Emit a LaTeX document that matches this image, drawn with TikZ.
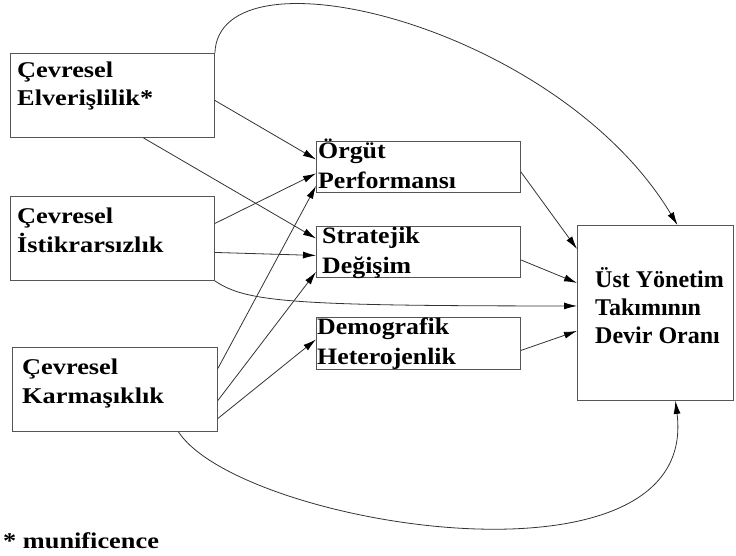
\documentclass[tikz,border=0pt]{standalone}
\usepackage{fontspec}
\setmainfont{Liberation Serif}
\newfontfamily\wideA[FakeStretch=1.17]{Liberation Serif}
\newfontfamily\wideB[FakeStretch=1.1]{Liberation Serif}
\newfontfamily\plainR{Liberation Serif}
\usetikzlibrary{arrows.meta,calc}
\definecolor{edge}{HTML}{333333}
\definecolor{frame}{HTML}{555555}
\tikzset{
  box/.style={draw=frame, line width=0.9pt, rectangle, inner sep=0pt, anchor=north west},
  % multi-line labels are placed by the baseline of their last line
  srctext/.style={anchor=base west, inner sep=0pt, align=left,
    font=\wideA\bfseries\fontsize{22.5}{28.5}\selectfont},
  midtext/.style={anchor=base west, inner sep=0pt, align=left,
    font=\wideB\bfseries\fontsize{23.5}{30}\selectfont},
  outtext/.style={anchor=base west, inner sep=0pt, align=left,
    font=\plainR\bfseries\fontsize{24}{28}\selectfont},
  link/.style={draw=edge, line width=0.8pt,
    -{Latex[length=13pt,width=7pt,color=black]}},
}
\begin{document}
\begin{tikzpicture}[x=1pt, y=-1pt]
\useasboundingbox (0,0) rectangle (736,556);

% boxes
\node[box, minimum width=204pt, minimum height=84pt] (elv) at (10,53) {};
\node[box, minimum width=204pt, minimum height=84pt] (ist) at (10,196) {};
\node[box, minimum width=205pt, minimum height=84pt] (kar) at (12,347) {};
\node[box, minimum width=204pt, minimum height=51pt] (org) at (316,141) {};
\node[box, minimum width=204pt, minimum height=51pt] (str) at (316,226) {};
\node[box, minimum width=204pt, minimum height=52pt] (dem) at (316,317) {};
\node[box, minimum width=156pt, minimum height=175pt] (ust) at (577,225) {};

% box texts
\node[srctext] (elv-t) at (17,106) {Çevresel\\Elverişlilik*};
\node[srctext] (ist-t) at (17,252) {Çevresel\\İstikrarsızlık};
\node[srctext] (kar-t) at (22,403) {Çevresel\\Karmaşıklık};
\node[midtext] (org-t) at (318,189) {Örgüt\\Performansı};
\node[midtext] (str-t) at (322,273) {Stratejik\\Değişim};
\node[midtext] (dem-t) at (317,364) {Demografik\\Heterojenlik};
\node[outtext] (ust-t) at (595,343) {Üst Yönetim\\Takımının\\Devir Oranı};
\node[srctext] (note) at (3,548) {* munificence};

% environment -> mediators
\draw[link] ($(elv.east)+(0,5)$) -- ($(org.west)+(0,-7.5)$);
\draw[link] ($(elv.south)+(31,0)$) -- ($(str.west)+(0,-13.5)$);
\draw[link] ($(ist.east)+(0,-15)$) -- ($(org.west)+(0,6.5)$);
\draw[link] ($(ist.east)+(0,14)$) -- ($(str.west)+(0,3.5)$);
\draw[link] ($(kar.east)+(0,-21)$) -- ($(org.west)+(0,19)$);
\draw[link] ($(kar.east)+(0,11)$) -- ($(str.west)+(0,20)$);
\draw[link] ($(kar.east)+(0,29)$) -- ($(dem.west)+(0,-4)$);

% mediators -> turnover
\draw[link] ($(org.east)+(0,5)$) -- ($(ust.west)+(0,-64)$);
\draw[link] ($(str.east)+(0,8)$) -- ($(ust.west)+(0,-30)$);
\draw[link] ($(dem.east)+(0,7)$) -- ($(ust.west)+(0,18)$);

% direct effects
\draw[link] (ist.south east) .. controls +(31,21) and +(-287,0) .. ($(ust.west)+(0,-7)$);
\draw[link] (elv.north east) .. controls +(4,-110) and +(-120,-200) .. ($(ust.north)+(22,0)$);
\draw[link] ($(kar.south)+(63.5,0)$) .. controls +(62,94) and +(25,200) .. ($(ust.south)+(20,0)$);
\end{tikzpicture}
\end{document}
